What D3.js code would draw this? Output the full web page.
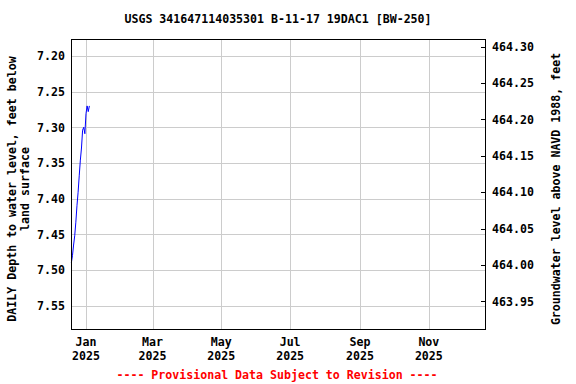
<!DOCTYPE html>
<html>
<head>
<meta charset="utf-8">
<script src="https://cdn.jsdelivr.net/npm/d3@7"></script>
<style>
  body { margin: 0; background: #fff; }
  svg { display: block; }
  text { font-family: "DejaVu Sans Mono", "Liberation Mono", monospace; font-weight: bold; font-size: 11.6px; fill: #000; }
  .grid line { stroke: #cccccc; stroke-width: 1; shape-rendering: crispEdges; }
</style>
</head>
<body>
<svg id="chart" width="576" height="384"></svg>
<script>
// data
var dates = ["2024-12-19", "2024-12-20", "2024-12-21", "2024-12-22", "2024-12-23", "2024-12-24",
    "2024-12-25", "2024-12-26", "2024-12-27", "2024-12-28", "2024-12-29", "2024-12-30",
    "2024-12-31", "2025-01-01", "2025-01-02", "2025-01-03", "2025-01-04"];
var depths = [7.490, 7.480, 7.465, 7.452, 7.433, 7.410, 7.391, 7.368, 7.346, 7.329, 7.304,
    7.300, 7.309, 7.281, 7.270, 7.278, 7.270];

var depth_ticks = [7.20, 7.25, 7.30, 7.35, 7.40, 7.45, 7.50, 7.55];
var elev_ticks = [463.95, 464.00, 464.05, 464.10, 464.15, 464.20, 464.25, 464.30];
var month_ticks = ["2025-01-01", "2025-03-01", "2025-05-01", "2025-07-01", "2025-09-01", "2025-11-01"];

var title = "USGS 341647114035301 B-11-17 19DAC1 [BW-250]";
var left_label = ["DAILY Depth to water level, feet below", "land surface"];
var right_label = "Groundwater level above NAVD 1988, feet";
var footer = "---- Provisional Data Subject to Revision ----";

const LEFT = 71, RIGHT = 485, TOP = 39, BOTTOM = 329;

var svg = d3.select("svg#chart");
var parse = d3.utcParse("%Y-%m-%d");

var xscale = d3.scaleUtc()
    .domain([Date.UTC(2024, 11, 18, 17), Date.UTC(2025, 11, 20, 19)])
    .range([LEFT, RIGHT]);

var yscale = d3.scaleLinear()
    .domain([7.1762, 7.5827])
    .range([TOP, BOTTOM]);

var yscale_elev = d3.scaleLinear()
    .domain([464.3106, 463.9119])
    .range([TOP, BOTTOM]);

// grid
var grid = svg.append("g").attr("class", "grid");
grid.selectAll(".hgrid")
    .data(depth_ticks)
    .enter().append("line")
    .attr("x1", LEFT).attr("x2", RIGHT)
    .attr("y1", d => Math.round(yscale(d)) + 0.5)
    .attr("y2", d => Math.round(yscale(d)) + 0.5);
grid.selectAll(".vgrid")
    .data(month_ticks)
    .enter().append("line")
    .attr("x1", d => Math.round(xscale(parse(d))) + 0.5)
    .attr("x2", d => Math.round(xscale(parse(d))) + 0.5)
    .attr("y1", TOP).attr("y2", BOTTOM);

// data line
var points = dates.map((d, i) => ({ date: parse(d), depth: depths[i] }));
svg.append("path")
    .datum(points)
    .attr("fill", "none")
    .attr("stroke", "#0000ff")
    .attr("stroke-width", 1)
    .attr("d", d3.line()
        .x(d => xscale(d.date))
        .y(d => yscale(d.depth)));

// left axis (labels only)
var yaxis = d3.axisLeft(yscale)
    .tickValues(depth_ticks)
    .tickFormat(d3.format(".2f"))
    .tickSize(0)
    .tickPadding(6);
var gy = svg.append("g")
    .attr("transform", "translate(" + LEFT + ",0)")
    .call(yaxis);
gy.select(".domain").remove();
gy.selectAll("text").attr("font-size", null).attr("font-family", null);

// right axis with inward ticks
var yaxis_elev = d3.axisRight(yscale_elev)
    .tickValues(elev_ticks)
    .tickFormat(d3.format(".2f"))
    .tickSize(0)
    .tickPadding(7);
var gr = svg.append("g")
    .attr("transform", "translate(" + RIGHT + ",0)")
    .call(yaxis_elev);
gr.select(".domain").remove();
gr.selectAll("text").attr("font-size", null).attr("font-family", null);
gr.selectAll(".tick").append("line")
    .attr("x1", -4).attr("x2", 0)
    .attr("stroke", "#000")
    .attr("shape-rendering", "crispEdges");

// bottom axis: month + year
var gx = svg.append("g");
var xt = gx.selectAll(".xt")
    .data(month_ticks)
    .enter().append("text")
    .attr("text-anchor", "middle")
    .attr("transform", d => "translate(" + xscale(parse(d)) + ",0)");
xt.append("tspan").attr("x", 0).attr("y", 346).text(d => d3.utcFormat("%b")(parse(d)));
xt.append("tspan").attr("x", 0).attr("y", 360).text(d => d3.utcFormat("%Y")(parse(d)));

// frame
svg.append("rect")
    .attr("x", LEFT + 0.5).attr("y", TOP + 0.5)
    .attr("width", RIGHT - LEFT).attr("height", BOTTOM - TOP)
    .attr("fill", "none")
    .attr("stroke", "#000")
    .attr("stroke-width", 1)
    .attr("shape-rendering", "crispEdges");

// title
svg.append("text")
    .attr("x", (LEFT + RIGHT) / 2).attr("y", 23)
    .attr("text-anchor", "middle")
    .text(title);

// left axis title
svg.append("text")
    .attr("transform", "translate(16," + 189 + ") rotate(-90)")
    .attr("text-anchor", "middle")
    .text(left_label[0]);
svg.append("text")
    .attr("transform", "translate(29," + 189 + ") rotate(-90)")
    .attr("text-anchor", "middle")
    .text(left_label[1]);

// right axis title
svg.append("text")
    .attr("transform", "translate(560," + 189 + ") rotate(-90)")
    .attr("text-anchor", "middle")
    .text(right_label);

// footer
svg.append("text")
    .attr("x", 277).attr("y", 379)
    .attr("text-anchor", "middle")
    .attr("fill", "#ff0000")
    .style("fill", "#ff0000")
    .text(footer);
</script>
</body>
</html>
